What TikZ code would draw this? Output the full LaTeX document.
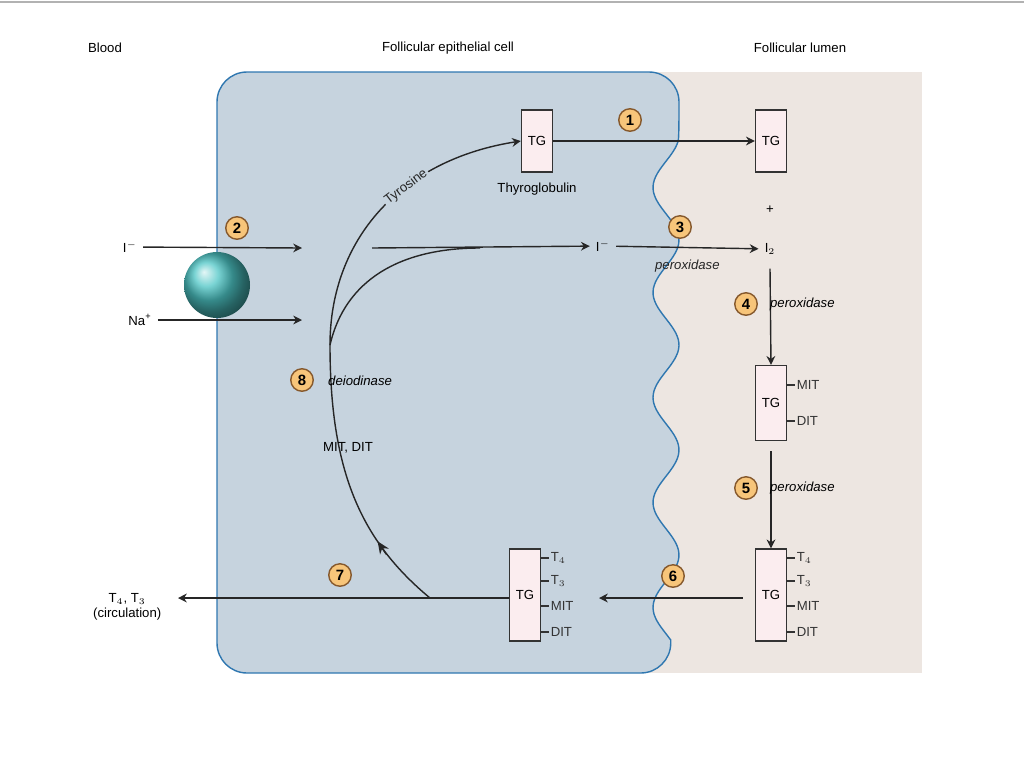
\documentclass[tikz,border=0pt]{standalone}
\usepackage{fontspec}
\setmainfont{Liberation Sans}
\usepackage{tikz}
\usetikzlibrary{positioning,calc,arrows.meta}
\definecolor{cellfill}{HTML}{C6D3DE}
\definecolor{cellline}{HTML}{2F77B0}
\definecolor{lumenfill}{HTML}{EDE6E1}
\definecolor{stepfill}{HTML}{F7C57A}
\definecolor{tgfill}{HTML}{FBEDEF}
\begin{document}
\begin{tikzpicture}[x=0.02cm,y=-0.02cm,
    font=\fontsize{7.5}{8.5}\selectfont,
    tg/.style={rectangle, draw=black!80, thick, fill=tgfill, minimum width=0.62cm, inner sep=0pt},
    stepnum/.style={circle, draw=brown!70!black, fill=stepfill, thick, minimum size=0.45cm, inner sep=0pt, font=\fontsize{8.5}{9}\selectfont\bfseries},
    arrow/.style={-{Stealth[length=5pt,width=5pt]}, thick, black!85},
    enz/.style={font=\fontsize{7.5}{8.5}\selectfont\itshape},
    tick/.style={thick, black!80}
]
    \useasboundingbox (0,0) rectangle (1024,768);
    \draw[gray!60, thick] (0,2) -- (1024,2);
    % lumen and cell
    \fill[lumenfill] (640,72) rectangle (922,673);
    \draw[cellline, thick, fill=cellfill]
        plot[domain=135:640, samples=80, smooth] ({666+13*cos((\x-135)*3.4286)},\x)
        [rounded corners=0.6cm] -- (670.7,673) -- (217,673) -- (217,72) -- (679,72) -- cycle;
    % headings
    \node (blood) at (105,48) {Blood};
    \node (cell) at (448,48) {Follicular epithelial cell};
    \node (lumen) at (800,48) {Follicular lumen};
    % thyroglobulin
    \node[tg, minimum height=1.24cm] (tgc) at (537,141) {TG};
    \node[below=0.08cm of tgc] (thyro) {Thyroglobulin};
    \node[tg, minimum height=1.24cm] (tgl) at (771,141) {TG};
    \node (plus) at (770,210) {+};
    \node (iodine) at (770,249) {I$_2$};
    \node[tg, minimum height=1.5cm] (tgm) at (771,403) {TG};
    \node[tg, minimum height=1.84cm] (tgr) at (771,595) {TG};
    \node[tg, minimum height=1.84cm] (tgs) at (525,595) {TG};
    % side labels
    \foreach \b in {tgr,tgs} {
        \foreach \t/\y in {T$_4$/-37,T$_3$/-14,MIT/11,DIT/37} {
            \draw[tick] ($(\b.east)+(0,\y)$) -- ++(8,0) node[anchor=west, inner sep=0.5pt] {\t};
        }
    }
    \foreach \t/\y in {MIT/-18,DIT/18} {
        \draw[tick] ($(tgm.east)+(0,\y)$) -- ++(8,0) node[anchor=west, inner sep=0.5pt] {\t};
    }
    % channel
    \shade[ball color=cyan!35!teal!70!white] (217,285) circle (33);
    \node (iminus) at (130,247) {I$^-$};
    \node (na) at (140,320) {Na\textsuperscript{+}};
    \coordinate (iin) at (302,248);
    \coordinate (nain) at (302,320);
    \node (icell) at (603,246) {I$^-$};
    \coordinate (istart) at (372,248);
    \coordinate (fork) at (330,345);
    \coordinate (turn) at (430,598);
    \node[anchor=east] (circ) at (178,607) {\begin{tabular}{c}T$_4$, T$_3$\\(circulation)\end{tabular}};
    % arrows
    \draw[arrow] (iminus) -- (iin);
    \draw[arrow] (na) -- (nain);
    \draw[arrow] (istart) -- (icell);
    \draw[arrow] (icell) -- node[enz, below=0.12cm] {peroxidase} (iodine);
    \draw[arrow] (tgc) -- (tgl.west);
    \draw[arrow] ($(iodine.south)+(0,8)$) -- (tgm.north);
    \draw[arrow] (tgm.south) ++(0,10) -- (tgr.north);
    \draw[arrow] (tgr.west) ++(-12,3) -- (599,598);
    \draw[arrow] (tgs.west) ++(0,3) -- (circ.east |- 0,598);
    \draw[thick, black!85] (turn) .. controls (360,540) and (330,470) .. (fork);
    \draw[arrow] (fork) .. controls (330,240) and (400,160) .. (tgc.west)
        node[pos=0.62, sloped, fill=cellfill, inner sep=1pt] {Tyrosine};
    \draw[-{Stealth[length=7pt,width=6pt]}, thick, black!85] (386.5,554.6) -- (377.6,541.3);
    \draw[thick, black!85] (fork) .. controls (345,280) and (400,248) .. (480,248);
    \node (mitdit) at (348,448) {MIT, DIT};
    \node[enz, anchor=west] (deio) at (322,381) {deiodinase};
    % step numbers
    \node[stepnum] (s1) at (630,120) {1};
    \node[stepnum] (s2) at (237,228) {2};
    \node[stepnum] (s3) at (680,227) {3};
    \node[stepnum] (s4) at (746,304) {4};
    \node[enz, right=0.12cm of s4] (p4) {peroxidase};
    \node[stepnum] (s5) at (746,488) {5};
    \node[enz, right=0.12cm of s5] (p5) {peroxidase};
    \node[stepnum] (s6) at (673,576) {6};
    \node[stepnum] (s7) at (340,575) {7};
    \node[stepnum] (s8) at (302,380) {8};
\end{tikzpicture}
\end{document}
